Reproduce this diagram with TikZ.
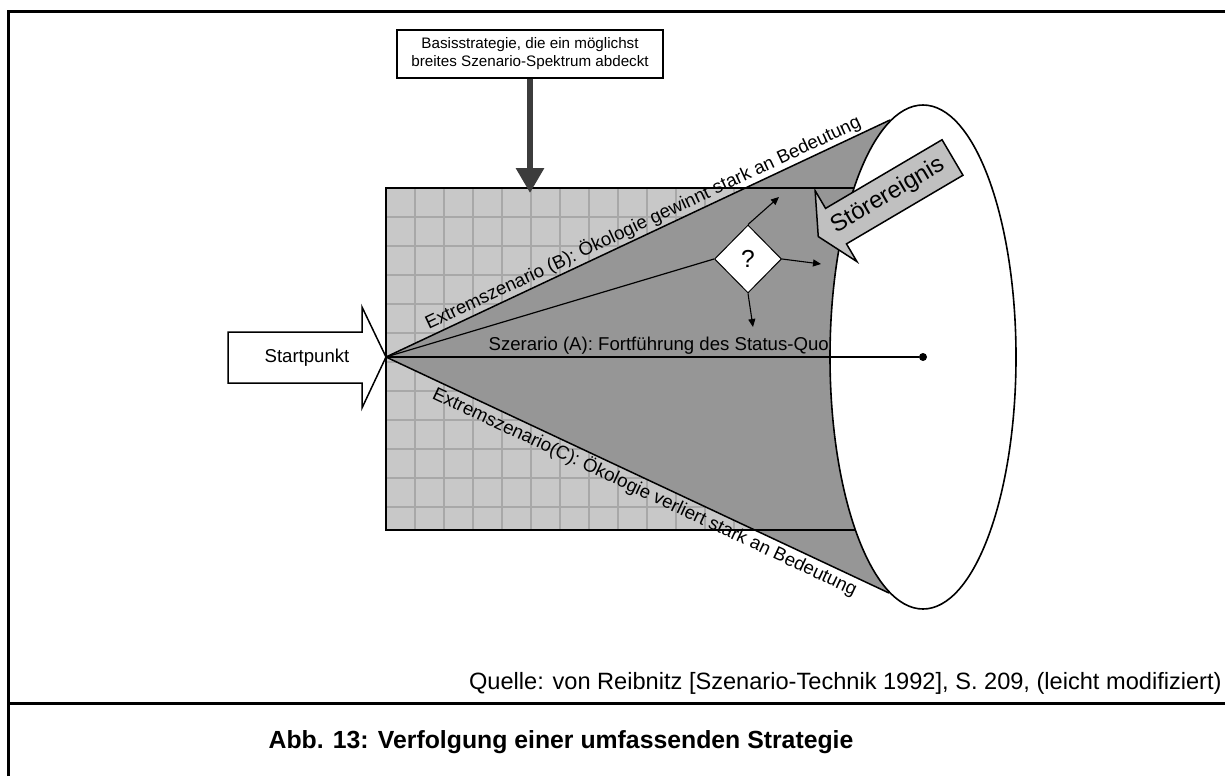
\documentclass[tikz,border=0pt]{standalone}
\usepackage{fontspec}
\setmainfont{Liberation Sans}
\usetikzlibrary{shapes.geometric,arrows.meta}
\definecolor{gridfill}{HTML}{C8C8C8}
\definecolor{gridline}{HTML}{A8A8A8}
\definecolor{conefill}{HTML}{969696}
\definecolor{eventfill}{HTML}{C0C0C0}
\definecolor{pushdark}{HTML}{3C3C3C}

\begin{document}
\begin{tikzpicture}[x=0.5pt,y=0.5pt,line join=miter,
  frameline/.style={line width=1.5pt},
  outline/.style={line width=0.75pt},
  thinline/.style={line width=0.6pt},
  scenlabel/.style={font=\fontsize{9.3pt}{11pt}\selectfont, inner sep=1pt},
  smallarrow/.style={line width=0.55pt, -{Triangle[length=4pt,width=3.5pt]}},
]
\useasboundingbox (0,0) rectangle (1225,-776);

% page frame
\draw[frameline] (8,-776) -- (8,-11) -- (1225,-11);
\draw[frameline] (8,-703) -- (1225,-703);

% strategy field with grid
\fill[gridfill] (386,-188) rectangle (880,-530);
\foreach \i in {1,...,17}
  \draw[gridline, line width=0.6pt] ({386+29*\i},-188) -- ({386+29*\i},-530);
\foreach \j in {1,...,11}
  \draw[gridline, line width=0.6pt] (386,{-188-29*\j}) -- (880,{-188-29*\j});

% scenario funnel
\coordinate (start) at (386,-357);
\coordinate (tipB) at (890,-120);
\coordinate (tipC) at (889,-593);
\fill[conefill] (start) -- (tipB) -- (tipC) -- cycle;
\draw[outline] (386,-188) rectangle (880,-530);
\draw[outline] (start) -- (tipB);
\draw[outline] (start) -- (tipC);
\node[ellipse, draw, line width=0.8pt, fill=white, minimum width=93pt,
      minimum height=252pt, inner sep=0pt] (horizon) at (923,-357) {};

% trend scenario
\node[circle, fill=black, minimum size=4pt, inner sep=0pt] (dot) at (923,-357) {};
\draw[outline] (start) -- (dot);

% branching point
\node[diamond, draw, line width=0.5pt, fill=white, minimum width=33.5pt,
      minimum height=34pt, inner sep=0pt,
      font=\fontsize{12.3pt}{14pt}\selectfont] (q) at (748,-259) {?};
\draw[thinline] (start) -- (q.west);
\coordinate (qUp) at (779,-197);
\coordinate (qRight) at (821,-264);
\coordinate (qDown) at (753,-327);
\draw[smallarrow] (q.north) -- (qUp);
\draw[smallarrow] (q.east) -- (qRight);
\draw[smallarrow] (q.south) -- (qDown);

% scenario labels
\path (start) -- (tipB) node[scenlabel, sloped, above, pos=0.52] (labelB)
  {Extremszenario (B): Ökologie gewinnt stark an Bedeutung};
\path (start) -- (tipC) node[scenlabel, sloped, below, pos=0.525] (labelC)
  {Extremszenario(C): Ökologie verliert stark an Bedeutung};
\path (start) -- (dot) node[scenlabel, above, pos=0.512] (labelA)
  {Szerario (A): Fortführung des Status-Quo};

% disturbing event
\begin{scope}[shift={(952.5,-157.5)}, rotate=210.5]
  \draw[outline, fill=eventfill] (0,20.6) -- (135.2,20.6) -- (135.2,41.2)
    -- (155.8,0) -- (135.2,-41.2) -- (135.2,-20.6) -- (0,-20.6) -- cycle;
\end{scope}
\node[font=\fontsize{11.9pt}{14pt}\selectfont, rotate=30.5, inner sep=0pt]
  (event) at (887.8,-195.6) {Störereignis};

% starting point
\draw[outline, fill=white] (228,-332) -- (362,-332) -- (362,-307) -- (start)
  -- (362,-408) -- (362,-383) -- (228,-383) -- cycle;
\node[scenlabel] (startlabel) at (307,-358) {Startpunkt};

% base strategy
\node[draw, line width=0.6pt, fill=white, minimum width=133pt, minimum height=24pt,
      align=center, inner sep=0pt, font=\fontsize{7.6pt}{9pt}\selectfont]
  (basis) at (530,-54) {Basisstrategie, die ein möglichst\\breites Szenario-Spektrum abdeckt};
\coordinate (basisTip) at (530,-193);
\draw[pushdark, line width=3pt, -{Triangle[width=13.5pt,length=12.5pt]}]
  (basis.south) -- (basisTip);

% source and caption
\node[anchor=base east, inner sep=0pt, font=\fontsize{11.8pt}{14pt}\selectfont]
  (source) at (1222,-689) {Quelle: von Reibnitz [Szenario-Technik 1992], S. 209, (leicht modifiziert)};
\node[anchor=base, inner sep=0pt, font=\bfseries\fontsize{12.4pt}{15pt}\selectfont]
  (caption) at (561,-748) {Abb. 13: Verfolgung einer umfassenden Strategie};
\end{tikzpicture}
\end{document}
